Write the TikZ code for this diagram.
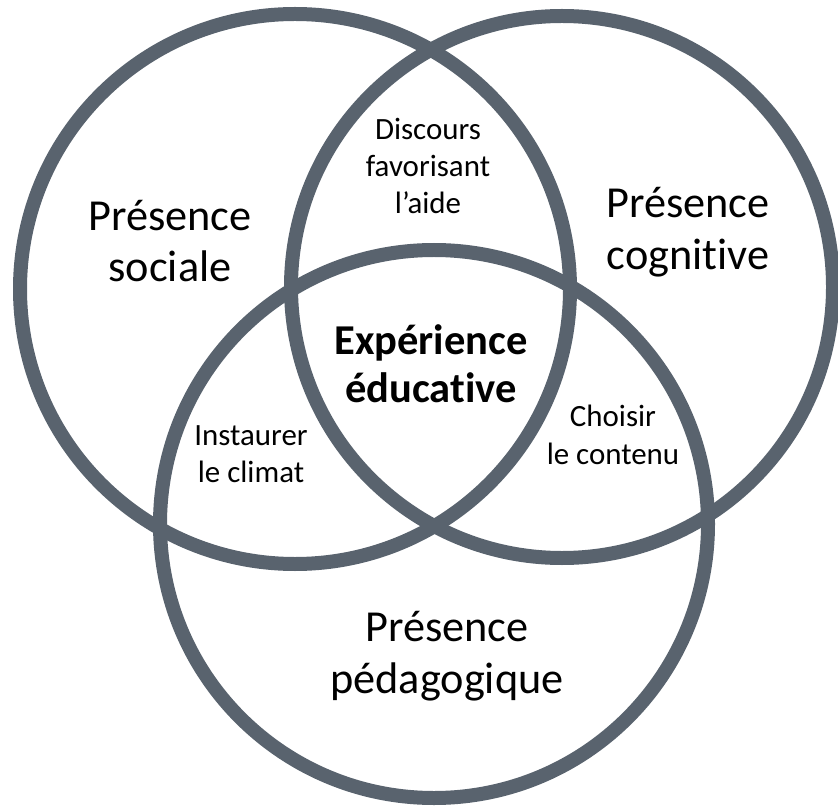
\documentclass[tikz,border=0pt]{standalone}
\usepackage{fontspec}
\setmainfont{Carlito}[Ligatures=NoCommon]
\usepackage{tikz}
\usetikzlibrary{positioning}
\definecolor{ringgray}{RGB}{89,99,110}

\begin{document}
\begin{tikzpicture}[
x=0.02cm, y=-0.02cm,
MyCircles/.style={draw=ringgray,line width=0.28cm},
BigLabel/.style={align=center,inner sep=0pt,font=\fontsize{25.2}{29.5}\selectfont},
SmallLabel/.style={align=center,inner sep=0pt,font=\fontsize{17.6}{21.3}\selectfont},
CoreLabel/.style={align=center,inner sep=0pt,font=\bfseries\fontsize{24.2}{27.2}\selectfont}
]
\useasboundingbox (0,0) rectangle (838,807);

% centres of the three presences
\coordinate (Soc) at (295,289);
\coordinate (Cog) at (562,287);
\coordinate (Ped) at (434,524);

\draw[MyCircles] (Soc) circle (275);
\draw[MyCircles] (Cog) circle (271);
\draw[MyCircles] (Ped) circle (274);

\node[BigLabel] (sociale) at (170,241) {Présence\\sociale};
\node[BigLabel] (cognitive) at (688,232) {Présence\\cognitive};
\node[BigLabel] (pedago) at (447,656) {Présence\\pédagogique};

\node[SmallLabel] (discours) at (428,166) {Discours\\favorisant\\l’aide};
\node[SmallLabel] (climat) at (251,454) {Instaurer\\le climat};
\node[SmallLabel] (contenu) at (613,435) {Choisir\\le contenu};

\node[CoreLabel] (experience) at (431,364) {Expérience\\éducative};

\end{tikzpicture}
\end{document}
